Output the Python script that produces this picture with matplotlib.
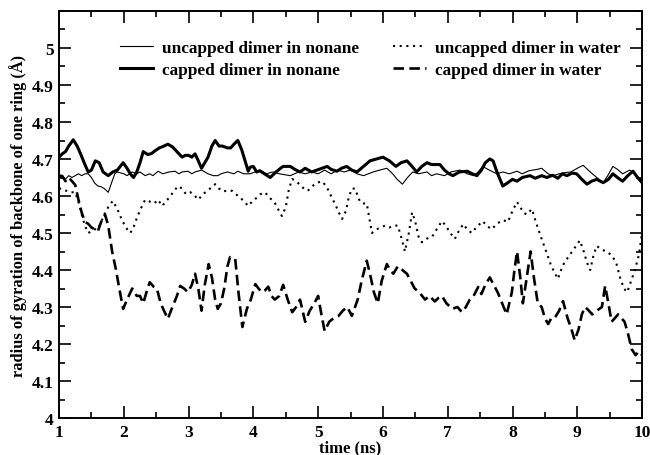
import matplotlib
matplotlib.use("Agg")
import matplotlib.pyplot as plt
from matplotlib.ticker import MultipleLocator, FixedLocator, FormatStrFormatter

# uncapped dimer in nonane (thin solid)
t_unc_non = [1.0, 1.05, 1.1, 1.15, 1.2, 1.25, 1.3, 1.35, 1.4, 1.45, 1.5, 1.55, 1.6, 1.65, 1.7, 1.76, 1.8, 1.86,
             1.9, 2.0, 2.05, 2.13, 2.2, 2.25, 2.33, 2.4, 2.45, 2.53, 2.6, 2.7, 2.79, 2.85, 2.9, 2.99, 3.05, 3.1,
             3.2, 3.3, 3.38, 3.45, 3.5, 3.6, 3.7, 3.76, 3.85, 3.95, 4.1, 4.2, 4.3, 4.4, 4.57, 4.7, 4.8, 4.9,
             5.0, 5.1, 5.2, 5.3, 5.4, 5.5, 5.6, 5.7, 5.85, 5.95, 6.06, 6.15, 6.22, 6.3, 6.38, 6.46, 6.55, 6.68,
             6.75, 6.83, 6.95, 7.05, 7.19, 7.3, 7.4, 7.47, 7.54, 7.62, 7.7, 7.76, 7.85, 7.95, 8.07, 8.15, 8.25,
             8.38, 8.45, 8.55, 8.63, 8.72, 8.8, 8.9, 9.0, 9.09, 9.2, 9.3, 9.4, 9.47, 9.55, 9.62, 9.7, 9.81, 9.9,
             10.0]
rg_unc_non = [4.65, 4.65, 4.645, 4.655, 4.65, 4.655, 4.66, 4.655, 4.66, 4.66, 4.65, 4.635, 4.627, 4.625, 4.62,
              4.61, 4.63, 4.66, 4.665, 4.66, 4.655, 4.665, 4.66, 4.665, 4.655, 4.66, 4.655, 4.667, 4.66, 4.665,
              4.667, 4.66, 4.665, 4.667, 4.66, 4.665, 4.67, 4.66, 4.655, 4.655, 4.66, 4.665, 4.66, 4.667, 4.66,
              4.66, 4.67, 4.66, 4.665, 4.66, 4.655, 4.665, 4.66, 4.665, 4.66, 4.67, 4.66, 4.67, 4.665, 4.67,
              4.66, 4.655, 4.665, 4.67, 4.675, 4.66, 4.645, 4.632, 4.65, 4.665, 4.66, 4.665, 4.655, 4.66, 4.655,
              4.665, 4.67, 4.66, 4.655, 4.665, 4.68, 4.672, 4.665, 4.66, 4.665, 4.66, 4.667, 4.66, 4.668, 4.672,
              4.675, 4.66, 4.655, 4.66, 4.663, 4.665, 4.675, 4.683, 4.665, 4.65, 4.636, 4.655, 4.68, 4.672,
              4.66, 4.67, 4.66, 4.636]

# capped dimer in nonane (thick solid)
t_cap_non = [1.0, 1.05, 1.1, 1.15, 1.22, 1.28, 1.33, 1.4, 1.45, 1.5, 1.56, 1.62, 1.68, 1.76, 1.83, 1.9, 1.99,
             2.05, 2.1, 2.15, 2.2, 2.25, 2.3, 2.37, 2.43, 2.48, 2.55, 2.62, 2.68, 2.75, 2.82, 2.9, 2.95, 3.0,
             3.05, 3.1, 3.15, 3.2, 3.25, 3.3, 3.36, 3.41, 3.47, 3.52, 3.6, 3.65, 3.7, 3.76, 3.82, 3.88, 3.92,
             3.95, 4.0, 4.05, 4.1, 4.17, 4.26, 4.35, 4.42, 4.46, 4.57, 4.64, 4.72, 4.8, 4.9, 4.98, 5.06, 5.14,
             5.2, 5.29, 5.36, 5.44, 5.52, 5.6, 5.7, 5.8, 5.9, 6.0, 6.1, 6.2, 6.28, 6.37, 6.45, 6.52, 6.6, 6.68,
             6.75, 6.88, 6.95, 7.02, 7.08, 7.18, 7.3, 7.38, 7.45, 7.52, 7.58, 7.65, 7.7, 7.76, 7.85, 7.92, 8.0,
             8.07, 8.15, 8.27, 8.35, 8.45, 8.53, 8.62, 8.7, 8.77, 8.84, 8.92, 8.99, 9.07, 9.15, 9.22, 9.3, 9.4,
             9.48, 9.55, 9.62, 9.7, 9.78, 9.86, 9.93, 10.0]
rg_cap_non = [4.705, 4.714, 4.72, 4.735, 4.752, 4.735, 4.715, 4.685, 4.665, 4.67, 4.695, 4.69, 4.665, 4.655,
              4.665, 4.67, 4.69, 4.675, 4.66, 4.65, 4.665, 4.69, 4.72, 4.712, 4.715, 4.722, 4.73, 4.735, 4.74,
              4.733, 4.72, 4.705, 4.71, 4.71, 4.705, 4.714, 4.695, 4.675, 4.69, 4.705, 4.735, 4.75, 4.735,
              4.735, 4.73, 4.73, 4.74, 4.75, 4.725, 4.69, 4.667, 4.678, 4.68, 4.665, 4.668, 4.66, 4.65, 4.665,
              4.675, 4.68, 4.68, 4.672, 4.665, 4.675, 4.665, 4.67, 4.675, 4.68, 4.672, 4.667, 4.675, 4.68, 4.67,
              4.665, 4.68, 4.695, 4.7, 4.705, 4.695, 4.68, 4.69, 4.695, 4.68, 4.665, 4.68, 4.69, 4.685, 4.685,
              4.67, 4.66, 4.655, 4.665, 4.667, 4.66, 4.655, 4.67, 4.69, 4.7, 4.695, 4.665, 4.627, 4.635, 4.645,
              4.64, 4.65, 4.655, 4.648, 4.655, 4.65, 4.656, 4.648, 4.66, 4.655, 4.662, 4.66, 4.645, 4.632, 4.64,
              4.645, 4.636, 4.645, 4.66, 4.65, 4.64, 4.655, 4.667, 4.65, 4.636]

# uncapped dimer in water (dotted)
t_unc_wat = [1.0, 1.05, 1.1, 1.18, 1.25, 1.3, 1.35, 1.4, 1.45, 1.5, 1.55, 1.6, 1.65, 1.7, 1.76, 1.83, 1.9,
             1.96, 2.03, 2.1, 2.15, 2.2, 2.26, 2.33, 2.4, 2.47, 2.53, 2.59, 2.65, 2.72, 2.78, 2.84, 2.9, 2.96,
             3.03, 3.1, 3.15, 3.22, 3.3, 3.36, 3.41, 3.47, 3.53, 3.6, 3.67, 3.73, 3.8, 3.86, 3.92, 3.98, 4.05,
             4.11, 4.18, 4.25, 4.32, 4.38, 4.44, 4.5, 4.55, 4.6, 4.66, 4.72, 4.78, 4.84, 4.9, 4.97, 5.06, 5.13,
             5.2, 5.27, 5.32, 5.37, 5.43, 5.47, 5.52, 5.57, 5.61, 5.65, 5.7, 5.75, 5.79, 5.83, 5.9, 5.97, 6.03,
             6.1, 6.17, 6.23, 6.28, 6.34, 6.4, 6.45, 6.5, 6.55, 6.6, 6.68, 6.76, 6.83, 6.91, 6.97, 7.04, 7.11,
             7.17, 7.24, 7.3, 7.37, 7.44, 7.54, 7.6, 7.68, 7.76, 7.85, 7.93, 8.0, 8.07, 8.12, 8.17, 8.22, 8.3,
             8.36, 8.45, 8.52, 8.6, 8.7, 8.75, 8.8, 8.88, 8.96, 9.04, 9.1, 9.15, 9.2, 9.25, 9.3, 9.38, 9.45,
             9.53, 9.6, 9.66, 9.72, 9.77, 9.83, 9.89, 9.95, 10.0]
rg_unc_wat = [4.62, 4.62, 4.615, 4.61, 4.61, 4.585, 4.55, 4.52, 4.5, 4.505, 4.51, 4.51, 4.53, 4.55, 4.57,
              4.587, 4.565, 4.54, 4.515, 4.5, 4.515, 4.54, 4.565, 4.59, 4.585, 4.58, 4.59, 4.573, 4.585, 4.6,
              4.615, 4.627, 4.62, 4.605, 4.61, 4.6, 4.59, 4.605, 4.615, 4.625, 4.632, 4.62, 4.612, 4.615, 4.614,
              4.605, 4.595, 4.585, 4.573, 4.585, 4.595, 4.605, 4.61, 4.595, 4.585, 4.565, 4.546, 4.57, 4.62,
              4.646, 4.64, 4.63, 4.62, 4.614, 4.625, 4.635, 4.64, 4.625, 4.6, 4.575, 4.555, 4.538, 4.56, 4.595,
              4.62, 4.62, 4.6, 4.583, 4.58, 4.58, 4.54, 4.5, 4.51, 4.515, 4.52, 4.515, 4.52, 4.52, 4.49, 4.45,
              4.5, 4.556, 4.53, 4.49, 4.475, 4.485, 4.49, 4.51, 4.532, 4.52, 4.5, 4.484, 4.505, 4.524, 4.51,
              4.5, 4.515, 4.532, 4.52, 4.51, 4.525, 4.535, 4.53, 4.56, 4.584, 4.57, 4.555, 4.55, 4.565, 4.53,
              4.484, 4.45, 4.41, 4.376, 4.4, 4.42, 4.44, 4.46, 4.48, 4.45, 4.42, 4.4, 4.44, 4.465, 4.455, 4.45,
              4.44, 4.42, 4.38, 4.35, 4.34, 4.37, 4.4, 4.44, 4.5]

# capped dimer in water (dashed)
t_cap_wat = [1.0, 1.05, 1.1, 1.15, 1.2, 1.25, 1.3, 1.35, 1.4, 1.45, 1.5, 1.55, 1.6, 1.65, 1.71, 1.76, 1.82,
             1.88, 1.93, 1.99, 2.05, 2.13, 2.2, 2.25, 2.3, 2.35, 2.4, 2.46, 2.51, 2.57, 2.62, 2.68, 2.75, 2.82,
             2.87, 2.93, 2.99, 3.05, 3.1, 3.15, 3.2, 3.25, 3.31, 3.36, 3.41, 3.45, 3.5, 3.55, 3.6, 3.64, 3.72,
             3.77, 3.83, 3.9, 3.96, 4.03, 4.08, 4.13, 4.18, 4.23, 4.28, 4.33, 4.4, 4.46, 4.53, 4.6, 4.66, 4.72,
             4.8, 4.87, 4.94, 5.0, 5.05, 5.1, 5.17, 5.24, 5.31, 5.38, 5.45, 5.52, 5.57, 5.61, 5.67, 5.75, 5.8,
             5.86, 5.92, 5.98, 6.06, 6.11, 6.16, 6.23, 6.3, 6.37, 6.43, 6.49, 6.56, 6.65, 6.72, 6.8, 6.86, 6.91,
             6.98, 7.07, 7.15, 7.22, 7.28, 7.34, 7.4, 7.47, 7.52, 7.58, 7.65, 7.71, 7.77, 7.84, 7.91, 7.99, 8.03,
             8.07, 8.12, 8.16, 8.22, 8.28, 8.33, 8.39, 8.45, 8.5, 8.55, 8.6, 8.65, 8.72, 8.78, 8.85, 8.91, 8.96,
             9.02, 9.07, 9.12, 9.18, 9.23, 9.3, 9.38, 9.43, 9.48, 9.53, 9.58, 9.63, 9.68, 9.73, 9.78, 9.84, 9.9,
             9.95, 10.0]
rg_cap_wat = [4.655, 4.654, 4.64, 4.65, 4.64, 4.63, 4.59, 4.555, 4.53, 4.525, 4.515, 4.51, 4.505, 4.53, 4.55,
              4.52, 4.45, 4.4, 4.35, 4.295, 4.32, 4.35, 4.33, 4.33, 4.31, 4.34, 4.367, 4.355, 4.35, 4.31, 4.29,
              4.268, 4.3, 4.33, 4.357, 4.35, 4.34, 4.36, 4.39, 4.35, 4.29, 4.36, 4.416, 4.38, 4.32, 4.295, 4.31,
              4.35, 4.41, 4.435, 4.43, 4.34, 4.246, 4.295, 4.32, 4.362, 4.35, 4.34, 4.345, 4.355, 4.33, 4.32,
              4.33, 4.36, 4.32, 4.286, 4.3, 4.32, 4.26, 4.29, 4.31, 4.33, 4.28, 4.235, 4.26, 4.27, 4.275, 4.29,
              4.3, 4.276, 4.3, 4.32, 4.37, 4.425, 4.39, 4.34, 4.31, 4.37, 4.416, 4.4, 4.39, 4.41, 4.4, 4.39,
              4.37, 4.35, 4.34, 4.32, 4.33, 4.315, 4.325, 4.33, 4.31, 4.295, 4.3, 4.286, 4.3, 4.32, 4.33, 4.354,
              4.335, 4.36, 4.38, 4.36, 4.34, 4.31, 4.28, 4.34, 4.4, 4.45, 4.38, 4.31, 4.38, 4.45, 4.38, 4.31,
              4.3, 4.27, 4.254, 4.27, 4.27, 4.29, 4.316, 4.27, 4.24, 4.21, 4.24, 4.28, 4.3, 4.29, 4.28, 4.29,
              4.3, 4.357, 4.31, 4.26, 4.27, 4.28, 4.27, 4.26, 4.23, 4.186, 4.17, 4.18, 4.17]

y_ticks = [4.0, 4.1, 4.2, 4.3, 4.4, 4.5, 4.6, 4.7, 4.8, 4.9, 5.0]

plt.rcParams['font.family'] = ['Liberation Serif', 'DejaVu Serif']
plt.rcParams['font.weight'] = 'bold'
plt.rcParams['font.size'] = 12

fig = plt.figure(figsize=(6.5, 4.56), dpi=100)
ax = fig.add_axes([0.0908, 0.0811, 0.897, 0.8926])

ax.plot(t_unc_non, rg_unc_non, color='black', lw=0.8, label='uncapped dimer in nonane')
ax.plot(t_cap_non, rg_cap_non, color='black', lw=2.2, label='capped dimer in nonane')
ax.plot(t_unc_wat, rg_unc_wat, color='black', lw=1.5, linestyle=(0, (1, 2.2)),
        label='uncapped dimer in water')
ax.plot(t_cap_wat, rg_cap_wat, color='black', lw=1.9, linestyle=(0, (4, 2)),
        label='capped dimer in water')

ax.set_xlim(1, 10)
ax.set_ylim(4, 5.1)
ax.xaxis.set_major_locator(MultipleLocator(1))
ax.xaxis.set_minor_locator(MultipleLocator(0.5))
ax.yaxis.set_major_locator(FixedLocator(y_ticks))
ax.yaxis.set_minor_locator(MultipleLocator(0.05))
ax.yaxis.set_major_formatter(FormatStrFormatter('%g'))
ax.tick_params(which='both', direction='in', top=True, right=True, width=1.2, labelsize=12.5)
ax.tick_params(which='major', length=8.5, pad=4)
ax.tick_params(which='minor', length=4.5)
for s in ax.spines.values():
    s.set_linewidth(1.4)

ax.set_xlabel('time (ns)', fontweight='bold', fontsize=12, labelpad=0)
ax.set_ylabel('radius of gyration of backbone of one ring (Å)', fontweight='bold', fontsize=11.8, labelpad=3)

ax.legend(loc='upper left', bbox_to_anchor=(0.1046, 0.928), ncol=2, frameon=False,
          borderpad=0, borderaxespad=0, handlelength=1.9, handletextpad=0.52,
          labelspacing=0.3, columnspacing=2.0, prop={'weight': 'bold', 'size': 12.4})

plt.savefig('out.png', dpi=100)
